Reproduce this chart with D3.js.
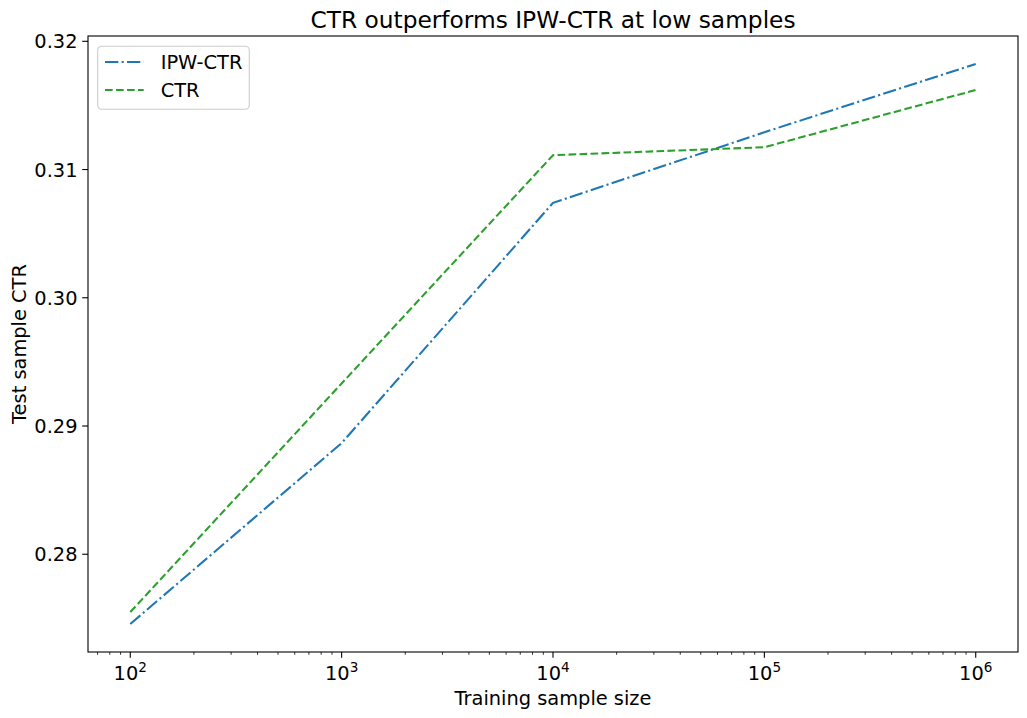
<!DOCTYPE html>
<html>
<head>
<meta charset="utf-8">
<script src="https://cdn.jsdelivr.net/npm/d3@7"></script>
<style>
  body { margin: 0; background: #fff; }
  text { font-family: "DejaVu Sans", sans-serif; fill: #000; }
</style>
</head>
<body>
<div id="chart"></div>
<script>
// data
const sampleSizes = [100, 1000, 10000, 100000, 1000000];
const ipwCtr = [0.27456, 0.28867, 0.30740, 0.31291, 0.31823];
const ctr = [0.27549, 0.29332, 0.31112, 0.31174, 0.31620];
const xTickExps = [2, 3, 4, 5, 6];
const yTicks = [0.28, 0.29, 0.30, 0.31, 0.32];

const W = 1027, H = 718;
const margin = {top: 36, right: 9, bottom: 66, left: 88};
const width = W - margin.left - margin.right,
      height = H - margin.top - margin.bottom;

const svg = d3.select("#chart")
    .append("svg")
    .attr("width", W)
    .attr("height", H);

const g = svg.append("g")
    .attr("transform", `translate(${margin.left}, ${margin.top})`);

// log x with matplotlib-style 5% margins
const x = d3.scaleLog()
    .domain([Math.pow(10, 1.8), Math.pow(10, 6.2)])
    .range([0, width]);

const allY = ipwCtr.concat(ctr);
const yMin = d3.min(allY), yMax = d3.max(allY);
const pad = (yMax - yMin) * 0.05;
const y = d3.scaleLinear()
    .domain([yMin - pad, yMax + pad])
    .range([height, 0]);

const fs = 19.4;

// minor ticks on log axis
let minor = [];
for (let e = 1; e <= 6; e++) {
    for (let m = 2; m <= 9; m++) {
        const v = m * Math.pow(10, e);
        if (v >= x.domain()[0] && v <= x.domain()[1]) minor.push(v);
    }
}
g.append("g")
    .selectAll("line")
    .data(minor)
    .enter()
    .append("line")
        .attr("x1", d => x(d)).attr("x2", d => x(d))
        .attr("y1", height).attr("y2", height + 2.8)
        .attr("stroke", "#000")
        .attr("stroke-width", 0.8);

// major x ticks
const xt = g.append("g")
    .selectAll("g")
    .data(xTickExps)
    .enter()
    .append("g")
        .attr("transform", d => `translate(${x(Math.pow(10, d))}, ${height})`);
xt.append("line")
    .attr("y2", 5.8)
    .attr("stroke", "#000")
    .attr("stroke-width", 1.1);
const xl = xt.append("text")
    .attr("text-anchor", "middle")
    .attr("y", 28)
    .style("font-size", fs + "px");
xl.append("tspan").text("10");
xl.append("tspan")
    .attr("dy", -8)
    .style("font-size", (fs * 0.7) + "px")
    .text(d => d);

// y ticks
const yt = g.append("g")
    .selectAll("g")
    .data(yTicks)
    .enter()
    .append("g")
        .attr("transform", d => `translate(0, ${y(d)})`);
yt.append("line")
    .attr("x2", -5.8)
    .attr("stroke", "#000")
    .attr("stroke-width", 1.1);
yt.append("text")
    .attr("text-anchor", "end")
    .attr("x", -10.5)
    .attr("dy", "0.36em")
    .style("font-size", fs + "px")
    .text(d => d.toFixed(2));

// lines
const line = d3.line()
    .x((d, i) => x(sampleSizes[i]))
    .y(d => y(d));

g.append("path")
    .datum(ipwCtr)
    .attr("fill", "none")
    .attr("stroke", "#1f77b4")
    .attr("stroke-width", 2.08)
    .attr("stroke-dasharray", "13.3,3.3,2.1,3.3")
    .attr("d", line);

g.append("path")
    .datum(ctr)
    .attr("fill", "none")
    .attr("stroke", "#2ca02c")
    .attr("stroke-width", 2.08)
    .attr("stroke-dasharray", "7.7,3.3")
    .attr("d", line);

// frame
g.append("rect")
    .attr("width", width)
    .attr("height", height)
    .attr("fill", "none")
    .attr("stroke", "#000")
    .attr("stroke-width", 1.1);

// legend
const legend = g.append("g").attr("transform", "translate(9.7, 10.3)");
legend.append("rect")
    .attr("width", 151.6)
    .attr("height", 63)
    .attr("rx", 4).attr("ry", 4)
    .attr("fill", "#fff")
    .attr("fill-opacity", 0.8)
    .attr("stroke", "#cccccc")
    .attr("stroke-width", 1.1);
const keys = [
    {name: "IPW-CTR", color: "#1f77b4", dash: "13.3,3.3,2.1,3.3"},
    {name: "CTR", color: "#2ca02c", dash: "7.7,3.3"}
];
const items = legend.selectAll("g.item")
    .data(keys)
    .enter()
    .append("g")
        .attr("class", "item")
        .attr("transform", (d, i) => `translate(0, ${15.7 + i * 28})`);
items.append("line")
    .attr("x1", 7.3).attr("x2", 46)
    .attr("stroke", d => d.color)
    .attr("stroke-width", 2.08)
    .attr("stroke-dasharray", d => d.dash);
items.append("text")
    .attr("x", 63)
    .attr("dy", "0.36em")
    .style("font-size", fs + "px")
    .text(d => d.name);

// labels
svg.append("text")
    .attr("text-anchor", "middle")
    .attr("x", margin.left + width / 2)
    .attr("y", 28)
    .style("font-size", "23.3px")
    .text("CTR outperforms IPW-CTR at low samples");

svg.append("text")
    .attr("text-anchor", "middle")
    .attr("x", margin.left + width / 2)
    .attr("y", 705)
    .style("font-size", fs + "px")
    .text("Training sample size");

svg.append("text")
    .attr("text-anchor", "middle")
    .attr("transform", `translate(26, ${margin.top + height / 2}) rotate(-90)`)
    .style("font-size", fs + "px")
    .text("Test sample CTR");
</script>
</body>
</html>
